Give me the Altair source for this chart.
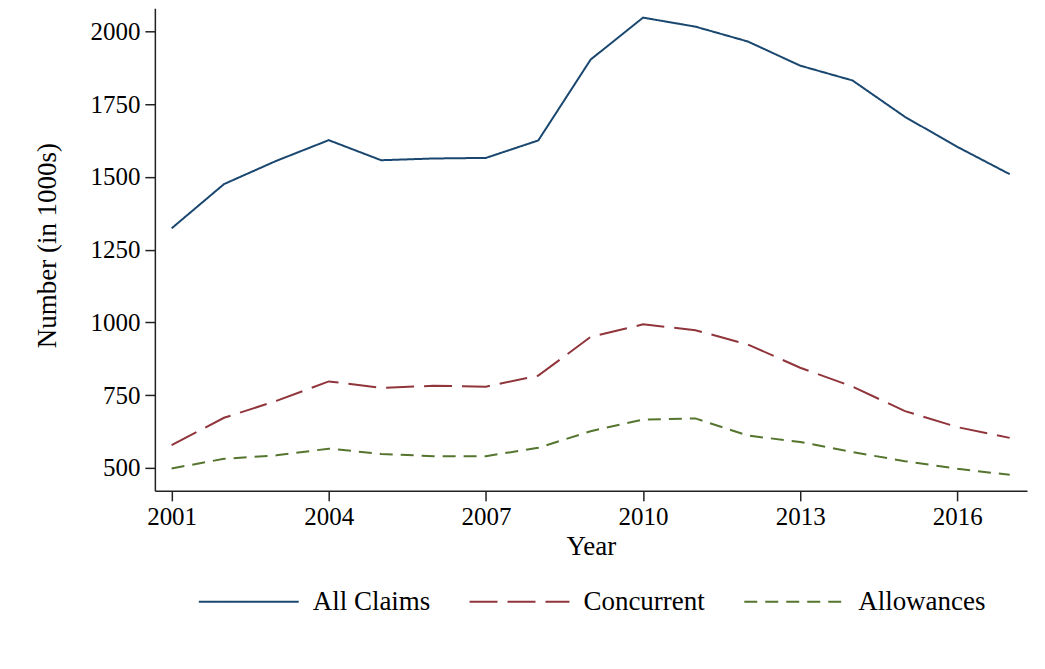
import altair as alt
import pandas as pd

years = list(range(2001, 2018))
all_claims = [1323, 1475, 1555, 1626, 1557, 1563, 1565, 1625, 1903, 2047, 2016, 1965, 1882, 1831, 1706, 1603, 1509]
concurrent = [578, 672, 730, 797, 775, 782, 779, 817, 950, 993, 973, 924, 844, 779, 695, 640, 603]
allowances = [498, 531, 543, 566, 548, 540, 540, 569, 626, 666, 670, 611, 589, 554, 523, 497, 476]
series = ["All Claims", "Concurrent", "Allowances"]
x_ticks = [2001, 2004, 2007, 2010, 2013, 2016]
y_ticks = [500, 750, 1000, 1250, 1500, 1750, 2000]

rows = []
for name, vals in zip(series, [all_claims, concurrent, allowances]):
    for yr, v in zip(years, vals):
        rows.append({"Year": yr, "Value": v, "Series": name})
df = pd.DataFrame(rows)

FONT = "Liberation Serif"

legend_kw = dict(title=None, orient="none", direction="horizontal",
                 legendX=43, legendY=543, symbolType="stroke",
                 symbolSize=10000, symbolStrokeWidth=2,
                 labelFontSize=27, labelFont=FONT, labelColor="black",
                 labelOffset=13, columnPadding=35, padding=0)

chart = alt.Chart(df).mark_line(strokeWidth=2).encode(
    x=alt.X("Year:Q",
            scale=alt.Scale(domain=[2000.68, 2017.33], nice=False, zero=False),
            axis=alt.Axis(values=x_ticks, format="d", title="Year", grid=False,
                          tickSize=10, labelPadding=4, titlePadding=4)),
    y=alt.Y("Value:Q",
            scale=alt.Scale(domain=[421, 2079], nice=False, zero=False),
            axis=alt.Axis(values=y_ticks, format="d", title="Number (in 1000s)", grid=False,
                          tickSize=10, labelPadding=5, titleX=-107, titleY=237,
                          titleAngle=270, titleBaseline="middle", titleAlign="center")),
    color=alt.Color("Series:N", sort=series,
                    scale=alt.Scale(domain=series, range=["#1a476f", "#90353b", "#55752f"]),
                    legend=alt.Legend(**legend_kw)),
    strokeDash=alt.StrokeDash("Series:N", sort=series,
                              scale=alt.Scale(domain=series, range=[[1, 0], [28, 10], [13, 8]]),
                              legend=alt.Legend(**legend_kw)),
).properties(
    width=873, height=483,
    autosize=alt.AutoSizeParams(type="none"),
    padding={"left": 147, "top": 0, "right": 10, "bottom": 170},
    background="white",
).configure_view(stroke=None).configure_axis(
    labelFont=FONT, titleFont=FONT, labelFontSize=25, titleFontSize=27,
    labelColor="black", titleColor="black", titleFontWeight="normal",
    domainColor="#222222", tickColor="#222222", domainWidth=1.5, tickWidth=1.5,
)

chart.save("out.html", embed_options={"renderer": "svg", "actions": False})
